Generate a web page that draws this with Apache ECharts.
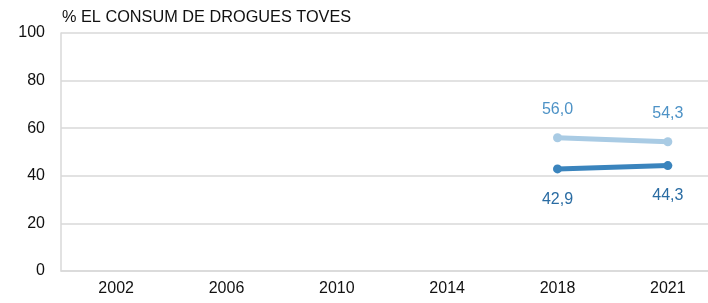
<!DOCTYPE html>
<html><head><meta charset="utf-8">
<script src="https://cdn.jsdelivr.net/npm/echarts@6/dist/echarts.min.js"></script>
<style>html,body{margin:0;padding:0;background:#fff}#c{width:708px;height:303px}</style>
</head><body><div id="c"></div>
<script>
const categories = ['2002','2006','2010','2014','2018','2021'];
const seriesLight = [null,null,null,null,56.0,54.3];
const seriesDark = [null,null,null,null,42.9,44.3];
const yTicks = [0,20,40,60,80,100];
const titleText = '% EL CONSUM DE DROGUES TOVES';

const fmt = p => p.value == null ? '' : p.value.toFixed(1).replace('.', ',');
const chart = echarts.init(document.getElementById('c'), null, {renderer:'canvas'});
chart.setOption({
  animation:false,
  textStyle:{fontFamily:'Liberation Sans, Arial, sans-serif'},
  graphic:[{type:'text', left:62, top:10, style:{text:titleText, font:'16.3px Liberation Sans, Arial, sans-serif', fill:'#111'}}],
  grid:{left:61, top:33, width:662, height:238, containLabel:false, outerBoundsMode:'none'},
  xAxis:{type:'category', data:categories, boundaryGap:true,
    axisLine:{lineStyle:{color:'#d9d9d9', width:1.5}},
    axisTick:{alignWithLabel:true, length:4, lineStyle:{color:'#d9d9d9'}},
    axisLabel:{color:'#111', fontSize:16, margin:10}},
  yAxis:{type:'value', min:0, max:100, interval:20,
    axisLine:{show:true, lineStyle:{color:'#d9d9d9', width:1.5}},
    axisTick:{show:false},
    splitLine:{lineStyle:{color:'#d9d9d9', width:1.5}},
    axisLabel:{color:'#111', fontSize:16, margin:16}},
  series:[
    {type:'line', data:seriesLight, symbol:'circle', symbolSize:9, connectNulls:false,
     lineStyle:{color:'#a9cbe4', width:5}, itemStyle:{color:'#a9cbe4'},
     label:{show:true, position:'top', distance:16, formatter:fmt, color:'#4d92c6', fontSize:16}},
    {type:'line', data:seriesDark, symbol:'circle', symbolSize:9,
     lineStyle:{color:'#3a84bd', width:5}, itemStyle:{color:'#3a84bd'},
     label:{show:true, position:'bottom', distance:18, formatter:fmt, color:'#2a6ca3', fontSize:16}}
  ]
});
</script></body></html>
